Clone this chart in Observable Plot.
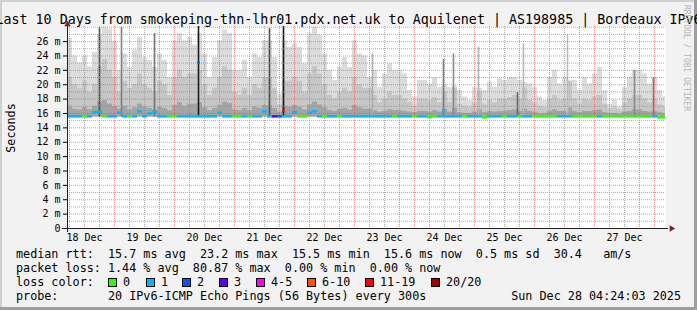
<!DOCTYPE html>
<html><head><meta charset="utf-8">
<script src="https://cdn.jsdelivr.net/npm/d3@7"></script>
<script src="https://cdn.jsdelivr.net/npm/@observablehq/plot@0.6"></script>
<style>
html,body{margin:0;padding:0;background:#f2f2f2;width:697px;height:310px;overflow:hidden}
#chart{position:relative;width:697px;height:310px}
</style></head><body><div id="chart"></div>
<script>
// ---- data ----
const titleText = "Last 10 Days from smokeping-thn-lhr01.pdx.net.uk to Aquilenet | AS198985 | Bordeaux IPv6";
const startTime = Date.UTC(2025, 11, 18, 5, 12);
const endTime = Date.UTC(2025, 11, 28, 4, 24);
const stepHours = 2;
const minRtt = 15.5;
const yTop = 28.1;

const smokeTop = [
  26.4,24.0,23.0,24.0,22.5,24.5,27.0,28.0,27.8,26.0,
  22.0,24.3,22.4,24.8,26.6,23.8,23.4,22.4,24.3,23.4,
  21.0,26.1,27.1,26.1,26.6,25.5,27.1,24.3,21.0,23.8,
  26.1,27.6,27.1,22.0,22.0,23.4,21.0,24.3,23.8,26.1,
  26.1,23.8,18.7,26.1,25.2,25.7,25.2,22.9,27.1,28.0,
  26.9,24.3,22.0,20.6,22.4,23.8,22.4,26.1,24.3,24.0,
  21.0,22.0,19.6,21.5,22.9,22.0,22.0,21.5,19.2,18.3,
  20.6,20.6,20.1,21.0,19.6,20.0,19.6,19.8,19.2,18.3,
  17.8,19.6,19.5,19.2,20.4,19.6,20.8,20.6,21.0,21.0,
  20.6,20.3,20.1,19.6,18.3,17.8,21.0,22.0,20.1,21.0,
  20.5,20.6,19.2,21.0,20.1,21.5,22.4,19.2,17.3,17.8,
  16.9,19.6,21.0,22.0,22.0,21.5,20.1,21.0,19.2,18.3
];
const smokeMid = [
  21.0,20.0,19.5,20.5,19.0,20.0,22.5,23.5,22.0,21.0,
  19.0,20.5,19.5,20.0,21.5,20.0,19.5,19.0,20.5,20.0,
  18.5,21.0,22.0,21.0,21.5,21.5,22.0,20.0,18.5,19.5,
  21.0,22.5,22.0,19.0,18.5,19.5,18.5,20.0,19.5,21.0,
  21.0,19.5,17.2,20.5,20.5,21.0,20.5,19.0,21.5,22.5,
  21.5,20.0,18.5,18.0,19.0,19.5,19.0,21.0,20.0,19.5,
  19.5,18.5,17.5,18.0,19.0,18.5,18.5,18.0,17.5,17.0,
  18.0,18.0,17.8,18.2,17.5,19.0,17.5,19.5,17.3,17.0,
  16.8,17.5,19.0,17.3,17.8,17.5,18.0,18.0,18.2,18.5,
  18.0,19.5,17.8,17.5,17.0,16.8,18.0,18.5,17.8,18.0,
  20.5,18.0,17.3,18.0,17.8,18.3,18.5,17.3,16.6,16.8,
  16.5,17.5,18.0,18.5,18.5,18.0,17.5,18.0,17.2,17.0
];
const smokeLow = [
  17.0,16.6,16.5,16.8,16.5,17.0,17.6,17.8,17.3,17.0,
  16.6,17.0,16.5,16.8,17.3,16.9,16.7,16.5,16.9,16.7,
  16.4,17.1,17.5,17.0,17.3,17.3,17.5,16.8,16.4,16.7,
  17.1,17.6,17.4,16.5,16.4,16.7,16.4,16.9,16.7,17.1,
  17.1,16.7,16.2,17.0,16.9,17.1,16.9,16.5,17.2,17.6,
  17.2,16.8,16.4,16.3,16.6,16.7,16.5,17.1,16.8,16.6,
  16.6,16.4,16.2,16.3,16.5,16.4,16.4,16.3,16.2,16.1,
  16.3,16.3,16.2,16.4,16.2,16.6,16.2,16.7,16.1,16.0,
  16.0,16.2,16.5,16.1,16.3,16.2,16.3,16.3,16.4,16.5,
  16.3,16.6,16.3,16.2,16.0,16.0,16.3,16.5,16.3,16.3,
  16.8,16.3,16.1,16.3,16.3,16.4,16.5,16.1,16.0,16.0,
  15.9,16.2,16.3,16.5,16.5,16.3,16.2,16.3,16.1,16.0
];
const median = [
  15.6,15.6,15.6,15.6,15.6,16.2,16.2,15.6,15.6,15.6,
  16.1,15.6,15.6,15.6,16.3,15.6,16.0,16.2,15.6,15.6,
  15.6,15.6,15.6,15.6,15.6,15.6,15.6,15.6,15.6,15.6,
  16.1,15.6,15.6,15.6,15.6,15.6,15.6,15.6,15.6,16.3,
  15.6,15.6,15.6,15.6,15.6,16.2,15.6,15.6,16.1,16.3,
  15.6,15.6,15.6,15.6,15.6,15.6,15.6,15.6,15.6,15.6,
  15.6,15.6,15.6,15.6,15.6,15.6,15.6,15.6,15.6,15.6,
  15.6,15.6,15.5,15.6,15.6,15.6,15.6,15.6,15.6,15.6,
  15.6,15.6,15.6,15.45,15.6,15.6,15.6,15.6,15.6,15.6,
  15.6,15.6,15.6,15.6,15.6,15.6,15.6,15.6,15.6,15.6,
  15.6,15.6,15.6,15.6,15.6,15.6,15.6,15.6,15.6,15.6,
  15.6,15.6,15.6,15.6,15.6,15.6,15.6,15.6,15.45,15.45
];
// index into lossLabels
const loss = [
  1,1,1,0,1,1,1,0,1,1,
  1,1,0,1,1,1,1,1,1,1,
  0,0,1,1,1,1,1,1,1,1,
  1,1,1,0,0,1,0,1,1,1,
  1,3,2,1,1,1,0,0,1,1,
  1,0,1,1,0,1,1,1,1,1,
  1,1,1,1,1,0,1,1,1,0,
  1,1,0,0,1,1,1,1,1,0,
  1,1,1,0,1,1,1,0,1,1,
  0,1,1,0,0,0,0,0,1,1,
  1,0,0,0,0,0,1,0,0,0,
  0,0,0,0,0,0,0,1,0,0
];
// narrow spikes of smoke
const spikeTimes = ["2025-12-18T18:00Z","2025-12-19T02:48Z","2025-12-19T16:00Z","2025-12-20T09:36Z","2025-12-21T14:00Z","2025-12-21T19:36Z","2025-12-23T07:12Z","2025-12-24T11:36Z","2025-12-24T15:36Z","2025-12-25T01:36Z","2025-12-25T17:12Z","2025-12-25T19:36Z","2025-12-26T13:12Z","2025-12-27T16:00Z","2025-12-27T23:36Z"];
const spikeTops = [27.9,28.0,27.1,28.1,27.8,28.1,24.3,23.5,24.3,25.2,18.9,25.7,26.9,22.0,21.0];
const spikeDensity = [0.78,0.45,0.5,0.95,0.72,1.0,0.2,0.45,0.38,0.18,0.58,0.15,0.12,0.38,0.45];
const spikeMedian = [null,null,null,23.1,null,16.4,null,16.3,null,null,null,null,null,null,null];
const spikeLoss = [null,null,null,2,null,6,null,1,null,null,null,null,null,null,null];

const lossLabels = ["0","1","2","3","4-5","6-10","11-19","20/20"];
const lossColors = ["#26ff00","#00b8ff","#0059ff","#5e00ff","#ff00ff","#ff5500","#ff0000","#a10000"];
const dayTicks = ["2025-12-18","2025-12-19","2025-12-20","2025-12-21","2025-12-22","2025-12-23","2025-12-24","2025-12-25","2025-12-26","2025-12-27"];
const yTicks = [0,2,4,6,8,10,12,14,16,18,20,22,24,26];

const legendRtt = "median rtt:  15.7 ms avg  23.2 ms max  15.5 ms min  15.6 ms now  0.5 ms sd  30.4   am/s";
const legendLoss = "packet loss: 1.44 % avg  80.87 % max  0.00 % min  0.00 % now";
const legendColorLabel = "loss color:";
const legendProbe = "probe:       20 IPv6-ICMP Echo Pings (56 Bytes) every 300s";
const legendDate = "Sun Dec 28 04:24:03 2025";
const watermark = "RRDTOOL / TOBI OETIKER";

// ---- build ----
const stepMs = stepHours * 3600e3;
const cols = smokeTop.map((top, i) => ({
  t0: new Date(startTime + i * stepMs),
  t1: new Date(Math.min(startTime + (i + 1) * stepMs, endTime)),
  top, mid: smokeMid[i], low: smokeLow[i], med: median[i], loss: loss[i]
}));
const shade = d3.interpolateRgb("#d6d6d6", "#111111");
const spikes = spikeTimes.map((t, i) => ({
  t: new Date(t), top: spikeTops[i], dens: spikeDensity[i], med: spikeMedian[i], loss: spikeLoss[i]
}));
const startD = new Date(startTime), endD = new Date(endTime);
const majorX = d3.utcDay.range(startD, endD);
const minorX = d3.utcHour.every(6).range(startD, endD).filter(d => d.getUTCHours() !== 0);
const majorY = d3.range(2, 29, 2);
const minorY = d3.range(1, 28, 2);
const noonTicks = dayTicks.map(s => d3.utcHour.offset(new Date(s + "T00:00Z"), 12));

const gridStyle = {stroke: "#8f8f8f", strokeOpacity: 0.75, strokeDasharray: "1,1"};
const mgridStyle = {stroke: "#de4f4f", strokeOpacity: 0.6, strokeDasharray: "1,1"};

const svg = Plot.plot({
  width: 697, height: 310,
  marginTop: 26, marginBottom: 82, marginLeft: 67, marginRight: 32,
  style: {fontFamily: "'DejaVu Sans Mono', monospace", fontSize: "10px", background: "#f2f2f2", color: "#000", overflow: "visible"},
  color: {type: "identity"},
  x: {type: "utc", domain: [startD, endD], ticks: noonTicks, tickFormat: d3.utcFormat("%d %b"), tickSize: 0, tickPadding: 5.5, label: null},
  y: {domain: [0, yTop], ticks: yTicks, tickFormat: d => d === 0 ? "0" : d + " m", tickSize: 4, tickPadding: 3, label: null},
  marks: [
    Plot.frame({fill: "#ffffff", stroke: null}),
    Plot.rect(cols, {x1: "t0", x2: "t1", y1: minRtt, y2: "top", fill: "#dcdcdc"}),
    Plot.rect(cols, {x1: "t0", x2: "t1", y1: minRtt, y2: "mid", fill: "#c6c6c6"}),
    Plot.rect(cols, {x1: "t0", x2: "t1", y1: minRtt, y2: "low", fill: "#a4a4a4"}),
    Plot.ruleX(spikes, {x: "t", y1: minRtt, y2: "top", stroke: d => shade(d.dens), strokeWidth: 1.6}),
    Plot.ruleY(minorY, gridStyle),
    Plot.ruleX(minorX, gridStyle),
    Plot.ruleY(majorY, mgridStyle),
    Plot.ruleX(majorX, mgridStyle),
    Plot.ruleY(cols, {y: "med", x1: "t0", x2: "t1", stroke: d => lossColors[d.loss], strokeWidth: 2.5}),
    Plot.dot(spikes.filter(d => d.med != null), {x: "t", y: "med", fill: d => lossColors[d.loss], symbol: "square", r: 1.4, stroke: null}),
    Plot.ruleY([0], {stroke: "#1f1f1f", insetLeft: -5, insetRight: -3}),
    Plot.ruleX([startD], {stroke: "#1f1f1f", insetBottom: -4, insetTop: -2}),
    Plot.dot([{t: endD, v: 0}], {x: "t", y: "v", symbol: "triangle", r: 2.4, rotate: 90, fill: "#801f1f", stroke: null, dx: 6}),
    Plot.dot([{t: startD, v: yTop}], {x: "t", y: "v", symbol: "triangle", r: 2.4, fill: "#801f1f", stroke: null, dy: -2})
  ]
});

const s = d3.select(svg);
const F = "'DejaVu Sans Mono', monospace";
// borders
s.append("rect").attr("x", 0).attr("y", 0).attr("width", 697).attr("height", 2).attr("fill", "#cfcfcf");
s.append("rect").attr("x", 0).attr("y", 0).attr("width", 2).attr("height", 310).attr("fill", "#cfcfcf");
s.append("rect").attr("x", 694).attr("y", 0).attr("width", 3).attr("height", 310).attr("fill", "#9e9e9e");
s.append("rect").attr("x", 0).attr("y", 307).attr("width", 697).attr("height", 3).attr("fill", "#9e9e9e");
// title
s.append("text").attr("x", 348.5).attr("y", 24).attr("text-anchor", "middle")
  .attr("font-family", F).attr("font-size", "13.33px").attr("fill", "#000").text(titleText);
// watermark
s.append("text").attr("transform", "translate(684,5) rotate(90)").attr("text-anchor", "start")
  .attr("font-family", F).attr("font-size", "8px").attr("fill", "#b4b4b4").text(watermark);
// y label
s.append("text").attr("transform", "translate(14.5,128) rotate(-90)").attr("text-anchor", "middle")
  .attr("font-family", F).attr("font-size", "11.76px").attr("fill", "#000").text("Seconds");
// legend
const lg = s.append("g").attr("font-family", F).attr("font-size", "11.76px").attr("fill", "#000")
  .attr("text-anchor", "start").style("white-space", "pre");
lg.append("text").attr("x", 16).attr("y", 258.3).text(legendRtt);
lg.append("text").attr("x", 16).attr("y", 272.2).text(legendLoss);
lg.append("text").attr("x", 16).attr("y", 286).text(legendColorLabel);
lg.append("text").attr("x", 16).attr("y", 299.8).text(legendProbe);
lg.append("text").attr("x", 681).attr("y", 299.8).attr("text-anchor", "end").text(legendDate);
const boxX = [108, 146, 182, 219, 256, 307, 365, 431];
lossLabels.forEach((lab, i) => {
  lg.append("rect").attr("x", boxX[i] + 0.5).attr("y", 278.5).attr("width", 8).attr("height", 8)
    .attr("fill", lossColors[i]).attr("stroke", "#000").attr("stroke-width", 1);
  lg.append("text").attr("x", boxX[i] + 15).attr("y", 286).text(lab);
});

document.getElementById("chart").appendChild(svg);
</script>
</body></html>
